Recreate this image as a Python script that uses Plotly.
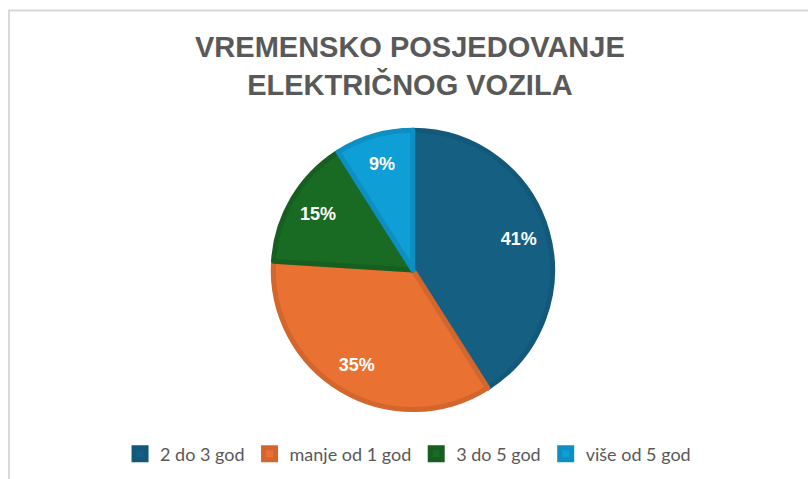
import plotly.graph_objects as go

categories = ["2 do 3 god", "manje od 1 god", "3 do 5 god", "više od 5 god"]
values = [41, 35, 15, 9]
colors = ["#156082", "#E97132", "#196B24", "#0F9ED5"]
border_colors = ["#12587A", "#D2662D", "#175F21", "#0E8FC2"]
title_text = "VREMENSKO POSJEDOVANJE<br>ELEKTRIČNOG VOZILA"

pie_domain = dict(x=[0.111, 0.911], y=[0.145, 0.728])

fig = go.Figure()
fig.add_trace(go.Pie(
    labels=categories,
    values=values,
    sort=False,
    direction="clockwise",
    rotation=0,
    marker=dict(colors=colors, line=dict(color=border_colors, width=5)),
    textinfo="none",
    domain=pie_domain,
    hoverinfo="skip",
))
# transparent ring overlay carrying the percentage labels
fig.add_trace(go.Pie(
    labels=categories,
    values=values,
    sort=False,
    direction="clockwise",
    rotation=0,
    hole=0.58,
    marker=dict(colors=["rgba(0,0,0,0)"] * 4, line=dict(width=0)),
    textinfo="percent",
    texttemplate="%{percent:.0%}",
    textposition="inside",
    insidetextorientation="horizontal",
    insidetextfont=dict(family="Liberation Sans", size=18, color="white", weight="bold"),
    domain=pie_domain,
    showlegend=False,
    hoverinfo="skip",
))

fig.update_layout(
    width=808, height=479,
    margin=dict(l=0, r=0, t=0, b=0),
    paper_bgcolor="white",
    annotations=[dict(
        text=title_text, xref="paper", yref="paper",
        x=0.508, xanchor="center",
        y=1 - 66 / 479, yanchor="middle",
        showarrow=False, align="center",
        font=dict(family="Liberation Sans", size=29, color="#595959", weight="bold"),
    )],
    legend=dict(
        orientation="h",
        x=0.505, xanchor="center",
        y=1 - 454 / 479, yanchor="middle",
        font=dict(family="Lato", size=18, color="#595959"),
        itemwidth=30,
        traceorder="normal",
    ),
    shapes=[dict(
        type="rect", xref="paper", yref="paper",
        x0=9 / 808, x1=1.05, y0=-0.05, y1=1 - 10.5 / 479,
        line=dict(color="#D9D9D9", width=2),
        fillcolor="rgba(0,0,0,0)",
    )],
)

fig.write_html("out.html", config={"displayModeBar": False},
               post_script="document.body.style.margin='0';")
